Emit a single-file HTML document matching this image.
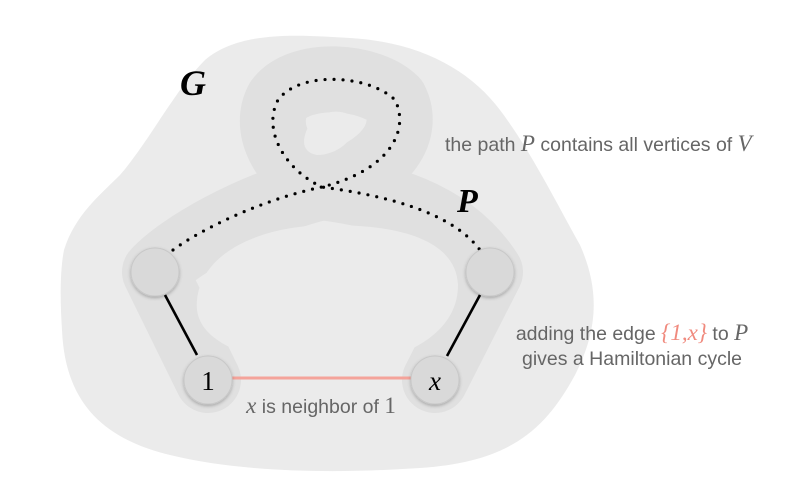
<!DOCTYPE html>
<html><head><meta charset="utf-8"><style>
html,body{margin:0;padding:0;background:#fff;}
svg{display:block}
.t{font-family:"Liberation Sans",sans-serif;font-size:19.5px;fill:#666;}
.m{font-family:"Liberation Serif",serif;font-style:italic;}
</style></head><body>
<svg width="808" height="502" viewBox="0 0 808 502" xmlns="http://www.w3.org/2000/svg">
<defs><filter id="sh" x="-30%" y="-30%" width="160%" height="160%"><feDropShadow dx="0" dy="1.5" stdDeviation="1.5" flood-color="#000" flood-opacity="0.25"/></filter></defs>
<path d="M64,250 C75,215 100,195 120,175 C150,140 175,90 205,60 C240,30 300,35 350,38 C420,42 470,70 500,110 C530,150 555,200 580,245 C600,290 598,330 575,375 C545,430 510,462 420,468 C330,474 240,472 170,455 C100,438 65,400 62,330 C60,300 60,270 64,250 Z" fill="#ebebeb"/>
<path d="M208,380 L155,272 C180,245 250,205 322,187 C285,170 262,130 278,100 C300,70 370,75 395,100 C410,130 390,170 322,187 C380,195 450,210 490,272 L435,380" fill="none" stroke="#e0e0e0" stroke-width="66" stroke-linejoin="round" stroke-linecap="round"/>
<path d="M197,300 C202,250 265,225 330,225 C405,225 456,242 458,285 C458,322 428,342 405,352 L240,352 C217,342 194,328 197,300 Z" fill="#ebebeb"/>
<path d="M305,135 C310,114 338,105 352,117 C363,130 343,155 317,155 C306,153 302,146 305,135 Z" fill="#ebebeb"/>
<path d="M173,250 C200,230 260,200 322,187 C285,170 262,130 278,100 C300,70 370,75 395,100 C410,130 390,170 322,187 C380,195 450,210 480,250" fill="none" stroke="#000" stroke-width="3.2" stroke-dasharray="0 9" stroke-linecap="round"/>
<line x1="165" y1="295" x2="197" y2="355" stroke="#000" stroke-width="2.6"/>
<line x1="480" y1="295" x2="447" y2="356" stroke="#000" stroke-width="2.6"/>
<line x1="232" y1="378" x2="412" y2="378" stroke="#f4a39a" stroke-width="3"/>
<g fill="#d9d9d9" stroke="#c8c8c8" stroke-width="1" filter="url(#sh)">
<circle cx="155" cy="272" r="24"/><circle cx="490" cy="272" r="24"/>
<circle cx="208" cy="380" r="24"/><circle cx="435" cy="380" r="24"/>
</g>
<text x="208" y="390" text-anchor="middle" font-family="Liberation Serif,serif" font-size="27">1</text>
<text x="435" y="390" text-anchor="middle" class="m" font-size="27">x</text>
<text x="180" y="95" class="m" font-size="36" font-weight="bold">G</text>
<text x="457" y="212" class="m" font-size="34" font-weight="bold">P</text>
<text x="445" y="151" class="t">the path <tspan class="m" font-size="23">P</tspan> contains all vertices of <tspan class="m" font-size="23">V</tspan></text>
<text x="632" y="340" text-anchor="middle" class="t">adding the edge <tspan class="m" font-size="23" fill="#f08a7e">{1,x}</tspan> to <tspan class="m" font-size="23">P</tspan></text>
<text x="632" y="365" text-anchor="middle" class="t">gives a Hamiltonian cycle</text>
<text x="321" y="413" text-anchor="middle" class="t"><tspan class="m" font-size="23">x</tspan> is neighbor of <tspan font-family="Liberation Serif,serif" font-size="23">1</tspan></text>
</svg>
</body></html>
